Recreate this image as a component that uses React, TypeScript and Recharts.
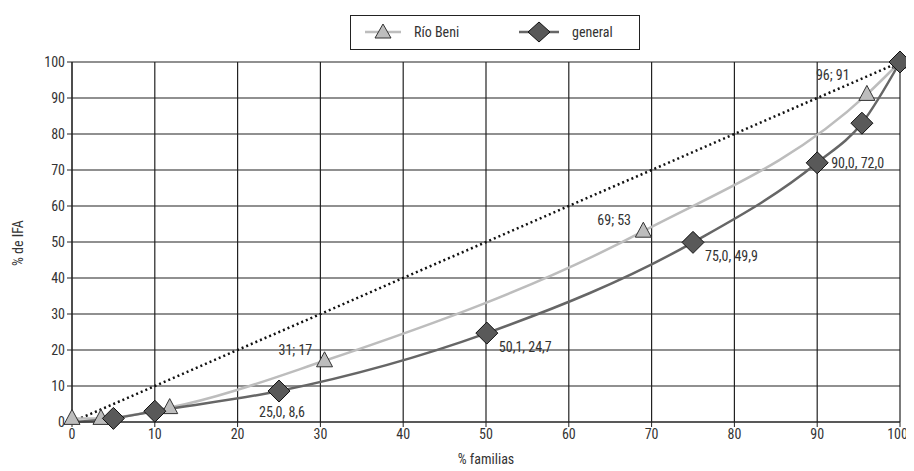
import { LineChart, Line, XAxis, YAxis, CartesianGrid, Legend, LabelList } from 'recharts'

// Lorenz curves: % de familias vs % de IFA
const beniX = [0, 3.5, 11.8, 30.5, 69, 96, 100]
const beniY = [1, 1, 4, 17, 53, 91, 100]
const beniLabels = ['', '', '', '31; 17', '69; 53', '96; 91', '']

const generalX = [0, 5, 10, 25, 50.1, 75, 90, 95.4, 100]
const generalY = [0, 1, 3, 8.6, 24.7, 49.9, 72, 83, 100]
const generalLabels = ['', '', '', '25,0, 8,6', '50,1, 24,7', '75,0, 49,9', '90,0, 72,0', '', '']

const equalityX = [0, 100]
const equalityY = [0, 100]

const ticks = [0, 10, 20, 30, 40, 50, 60, 70, 80, 90, 100]

const FONT = '"Liberation Sans Narrow", "Roboto Condensed", Arial, sans-serif'
const TEXT = '#333'
const FS = 14

const beniData = beniX.map((x, i) => ({ x, y: beniY[i], label: beniLabels[i] }))
const generalData = generalX.map((x, i) => ({ x, y: generalY[i], label: generalLabels[i] }))
const equalityData = equalityX.map((x, i) => ({ x, y: equalityY[i] }))

const Triangle = (props: any) => {
  const { cx, cy, index } = props
  if (cx == null || cy == null) return null
  return (
    <polygon
      key={`t-${index}`}
      points={`${cx},${cy - 9} ${cx + 8},${cy + 6} ${cx - 8},${cy + 6}`}
      fill="#bdbdbd"
      stroke="#333"
      strokeWidth={1}
    />
  )
}

const Diamond = (props: any) => {
  const { cx, cy, index } = props
  if (cx == null || cy == null) return null
  return (
    <polygon
      key={`d-${index}`}
      points={`${cx},${cy - 11} ${cx + 11},${cy} ${cx},${cy + 11} ${cx - 11},${cy}`}
      fill="#595959"
      stroke="#111"
      strokeWidth={1}
    />
  )
}

// label placement per series
const beniLabel = (props: any) => {
  const { x, y, value } = props
  if (!value) return null
  const dx = value === '96; 91' ? -51 : -46
  const dy = value === '96; 91' ? -14 : -6
  return (
    <text x={x + dx} y={y + dy} fontSize={FS} fontFamily={FONT} fill={TEXT}>{value}</text>
  )
}

const generalLabel = (props: any) => {
  const { x, y, value } = props
  if (!value) return null
  let dx = 12, dy = 19
  if (value === '25,0, 8,6') { dx = -20; dy = 26 }
  if (value === '90,0, 72,0') { dx = 14; dy = 5 }
  return (
    <text x={x + dx} y={y + dy} fontSize={FS} fontFamily={FONT} fill={TEXT}>{value}</text>
  )
}

const LegendBox = () => (
  <div style={{
    position: 'absolute', left: 342, top: 7, width: 290, height: 35,
    border: '1.5px solid #222', background: '#fff', boxSizing: 'border-box',
  }}>
    <svg width={290} height={35} style={{ position: 'absolute', left: 0, top: 0 }}>
      <line x1={14} y1={16} x2={50} y2={16} stroke="#bdbdbd" strokeWidth={2.5} />
      <polygon points="32,8 40,22 24,22" fill="#bdbdbd" stroke="#333" strokeWidth={1} />
      <text x={63} y={21} fontSize={FS} fontFamily={FONT} fill={TEXT}>Río Beni</text>
      <line x1={168} y1={16} x2={208} y2={16} stroke="#666" strokeWidth={2.5} />
      <polygon points="188,6 199,16 188,26 177,16" fill="#595959" stroke="#111" strokeWidth={1} />
      <text x={221} y={21} fontSize={FS} fontFamily={FONT} fill={TEXT}>general</text>
    </svg>
  </div>
)

export default function App() {
  return (
    <div style={{ position: 'relative', width: 900, height: 460, background: '#fff' }}>
      <LineChart width={900} height={460} margin={{ top: 54, right: 8, left: 24, bottom: 16 }}>
        <CartesianGrid stroke="#222" strokeWidth={1.2} horizontalValues={ticks} verticalValues={ticks} />
        <XAxis
          type="number"
          dataKey="x"
          domain={[0, 100]}
          ticks={ticks}
          tick={{ fill: TEXT, fontSize: FS, fontFamily: FONT }}
          axisLine={{ stroke: '#222' }}
          tickLine={{ stroke: '#222' }}
          tickSize={5}
          height={30}
          label={{ value: '% familias', position: 'insideBottom', offset: -12, fill: TEXT, fontSize: FS, fontFamily: FONT }}
        />
        <YAxis
          type="number"
          dataKey="y"
          domain={[0, 100]}
          ticks={ticks}
          tick={{ fill: TEXT, fontSize: FS, fontFamily: FONT }}
          axisLine={{ stroke: '#222' }}
          tickLine={{ stroke: '#222' }}
          tickSize={5}
          width={40}
          label={{ value: '% de IFA', angle: -90, position: 'insideLeft', offset: -14, dy: 24, fill: TEXT, fontSize: FS, fontFamily: FONT }}
        />
        <Legend content={() => null} />
        <Line
          data={equalityData}
          dataKey="y"
          type="linear"
          stroke="#111"
          strokeWidth={2.5}
          strokeDasharray="2 3"
          dot={false}
          isAnimationActive={false}
        />
        <Line
          data={beniData}
          dataKey="y"
          type="monotone"
          stroke="#bdbdbd"
          strokeWidth={2.5}
          dot={<Triangle />}
          activeDot={false}
          isAnimationActive={false}
        >
          <LabelList dataKey="label" content={beniLabel} />
        </Line>
        <Line
          data={generalData}
          dataKey="y"
          type="monotone"
          stroke="#666"
          strokeWidth={2.5}
          dot={(p: any) => (p.index === 0 ? <g key="d0" /> : <Diamond {...p} />)}
          activeDot={false}
          isAnimationActive={false}
        >
          <LabelList dataKey="label" content={generalLabel} />
        </Line>
      </LineChart>
      <LegendBox />
    </div>
  )
}
